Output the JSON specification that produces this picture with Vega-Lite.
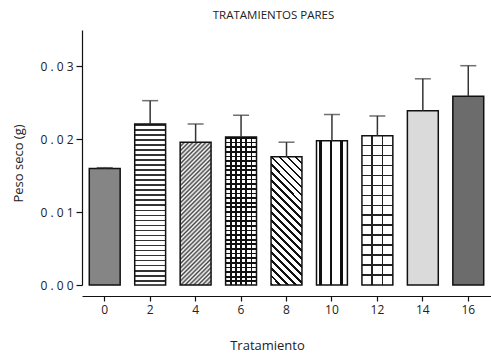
{
  "$schema": "https://vega.github.io/schema/vega-lite/v6.json",
  "autosize": {"type": "none"},
  "padding": {"left": 82, "top": 30, "right": 0, "bottom": 69},
  "width": 409,
  "height": 255,
  "title": {"text": "TRATAMIENTOS PARES", "fontSize": 11.5, "fontWeight": "normal", "color": "#222", "offset": 9, "dx": -13},
  "config": {
    "font": "Open Sans",
    "view": {"stroke": null},
    "axis": {"grid": false, "domainColor": "#111", "tickColor": "#111", "labelColor": "#222", "titleColor": "#222", "titleFontWeight": "normal", "domainWidth": 1.2, "tickWidth": 1.2}
  },
  "data": {"values": [
    {"Tratamiento": 0, "Peso": 0.0160, "Sup": 0.0161},
    {"Tratamiento": 2, "Peso": 0.0221, "Sup": 0.0253},
    {"Tratamiento": 4, "Peso": 0.0196, "Sup": 0.0221},
    {"Tratamiento": 6, "Peso": 0.0203, "Sup": 0.0233},
    {"Tratamiento": 8, "Peso": 0.0176, "Sup": 0.0196},
    {"Tratamiento": 10, "Peso": 0.0198, "Sup": 0.0234},
    {"Tratamiento": 12, "Peso": 0.0205, "Sup": 0.0232},
    {"Tratamiento": 14, "Peso": 0.0239, "Sup": 0.0283},
    {"Tratamiento": 16, "Peso": 0.0259, "Sup": 0.0301}
  ]},
  "encoding": {
    "x": {"field": "Tratamiento", "type": "ordinal", "scale": {"paddingInner": 0.32, "paddingOuter": 0.16},
      "axis": {"title": "Tratamiento", "labelAngle": 0, "offset": 11, "tickSize": 5, "labelFontSize": 12, "labelPadding": 3, "titleFontSize": 13, "titlePadding": 24, "titleX": 185}},
    "y": {"field": "Peso", "type": "quantitative", "scale": {"domain": [0, 0.035], "nice": false},
      "axis": {"title": "Peso seco (g)", "values": [0, 0.01, 0.02, 0.03], "format": ".2f", "labelExpr": "join(split(datum.label, ''), ' ')", "tickSize": 6, "labelPadding": 3, "labelFontSize": 12, "titleFontSize": 13, "titlePadding": 14, "titleY": 133}}
  },
  "layer": [
    {"mark": {"type": "bar"},
     "encoding": {"color": {"field": "Tratamiento", "type": "ordinal", "legend": null,
       "scale": {"domain": [0, 2, 4, 6, 8, 10, 12, 14, 16], "range": ["#858585", "#ffffff", "#ffffff", "#ffffff", "#ffffff", "#ffffff", "#ffffff", "#dadada", "#6c6c6c"]}}}},
    {"transform": [{"filter": "datum.Tratamiento == 2"}],
     "mark": {"type": "bar", "fill": {"gradient": "linear", "x1": 0, "y1": 0, "x2": 0, "y2": 1, "stops": [
{"offset":0,"color":"#333"},{"offset":0.01,"color":"#333"},{"offset":0.01,"color":"#fff"},{"offset":0.03125,"color":"#fff"},
{"offset":0.03125,"color":"#333"},{"offset":0.04125,"color":"#333"},{"offset":0.04125,"color":"#fff"},{"offset":0.0625,"color":"#fff"},
{"offset":0.0625,"color":"#333"},{"offset":0.0725,"color":"#333"},{"offset":0.0725,"color":"#fff"},{"offset":0.09375,"color":"#fff"},
{"offset":0.09375,"color":"#333"},{"offset":0.10375,"color":"#333"},{"offset":0.10375,"color":"#fff"},{"offset":0.125,"color":"#fff"},
{"offset":0.125,"color":"#333"},{"offset":0.135,"color":"#333"},{"offset":0.135,"color":"#fff"},{"offset":0.15625,"color":"#fff"},
{"offset":0.15625,"color":"#333"},{"offset":0.16625,"color":"#333"},{"offset":0.16625,"color":"#fff"},{"offset":0.1875,"color":"#fff"},
{"offset":0.1875,"color":"#333"},{"offset":0.1975,"color":"#333"},{"offset":0.1975,"color":"#fff"},{"offset":0.21875,"color":"#fff"},
{"offset":0.21875,"color":"#333"},{"offset":0.22875,"color":"#333"},{"offset":0.22875,"color":"#fff"},{"offset":0.25,"color":"#fff"},
{"offset":0.25,"color":"#333"},{"offset":0.26,"color":"#333"},{"offset":0.26,"color":"#fff"},{"offset":0.28125,"color":"#fff"},
{"offset":0.28125,"color":"#333"},{"offset":0.29125,"color":"#333"},{"offset":0.29125,"color":"#fff"},{"offset":0.3125,"color":"#fff"},
{"offset":0.3125,"color":"#333"},{"offset":0.3225,"color":"#333"},{"offset":0.3225,"color":"#fff"},{"offset":0.34375,"color":"#fff"},
{"offset":0.34375,"color":"#333"},{"offset":0.35375,"color":"#333"},{"offset":0.35375,"color":"#fff"},{"offset":0.375,"color":"#fff"},
{"offset":0.375,"color":"#333"},{"offset":0.385,"color":"#333"},{"offset":0.385,"color":"#fff"},{"offset":0.40625,"color":"#fff"},
{"offset":0.40625,"color":"#333"},{"offset":0.41625,"color":"#333"},{"offset":0.41625,"color":"#fff"},{"offset":0.4375,"color":"#fff"},
{"offset":0.4375,"color":"#333"},{"offset":0.4475,"color":"#333"},{"offset":0.4475,"color":"#fff"},{"offset":0.46875,"color":"#fff"},
{"offset":0.46875,"color":"#333"},{"offset":0.47875,"color":"#333"},{"offset":0.47875,"color":"#fff"},{"offset":0.5,"color":"#fff"},
{"offset":0.5,"color":"#333"},{"offset":0.51,"color":"#333"},{"offset":0.51,"color":"#fff"},{"offset":0.53125,"color":"#fff"},
{"offset":0.53125,"color":"#333"},{"offset":0.54125,"color":"#333"},{"offset":0.54125,"color":"#fff"},{"offset":0.5625,"color":"#fff"},
{"offset":0.5625,"color":"#333"},{"offset":0.5725,"color":"#333"},{"offset":0.5725,"color":"#fff"},{"offset":0.59375,"color":"#fff"},
{"offset":0.59375,"color":"#333"},{"offset":0.60375,"color":"#333"},{"offset":0.60375,"color":"#fff"},{"offset":0.625,"color":"#fff"},
{"offset":0.625,"color":"#333"},{"offset":0.635,"color":"#333"},{"offset":0.635,"color":"#fff"},{"offset":0.65625,"color":"#fff"},
{"offset":0.65625,"color":"#333"},{"offset":0.66625,"color":"#333"},{"offset":0.66625,"color":"#fff"},{"offset":0.6875,"color":"#fff"},
{"offset":0.6875,"color":"#333"},{"offset":0.6975,"color":"#333"},{"offset":0.6975,"color":"#fff"},{"offset":0.71875,"color":"#fff"},
{"offset":0.71875,"color":"#333"},{"offset":0.72875,"color":"#333"},{"offset":0.72875,"color":"#fff"},{"offset":0.75,"color":"#fff"},
{"offset":0.75,"color":"#333"},{"offset":0.76,"color":"#333"},{"offset":0.76,"color":"#fff"},{"offset":0.78125,"color":"#fff"},
{"offset":0.78125,"color":"#333"},{"offset":0.79125,"color":"#333"},{"offset":0.79125,"color":"#fff"},{"offset":0.8125,"color":"#fff"},
{"offset":0.8125,"color":"#333"},{"offset":0.8225,"color":"#333"},{"offset":0.8225,"color":"#fff"},{"offset":0.84375,"color":"#fff"},
{"offset":0.84375,"color":"#333"},{"offset":0.85375,"color":"#333"},{"offset":0.85375,"color":"#fff"},{"offset":0.875,"color":"#fff"},
{"offset":0.875,"color":"#333"},{"offset":0.885,"color":"#333"},{"offset":0.885,"color":"#fff"},{"offset":0.90625,"color":"#fff"},
{"offset":0.90625,"color":"#333"},{"offset":0.91625,"color":"#333"},{"offset":0.91625,"color":"#fff"},{"offset":0.9375,"color":"#fff"},
{"offset":0.9375,"color":"#333"},{"offset":0.9475,"color":"#333"},{"offset":0.9475,"color":"#fff"},{"offset":0.96875,"color":"#fff"},
{"offset":0.96875,"color":"#333"},{"offset":0.97875,"color":"#333"},{"offset":0.97875,"color":"#fff"},{"offset":1,"color":"#fff"}
     ]}}},
    {"transform": [{"filter": "datum.Tratamiento == 4"}],
     "mark": {"type": "bar", "fill": {"gradient": "linear", "x1": 0, "y1": 0, "x2": 0.2521, "y2": 1.1622, "stops": [
{"offset":0,"color":"#444"},{"offset":0.0125,"color":"#fff"},{"offset":0.025,"color":"#444"},{"offset":0.0375,"color":"#fff"},
{"offset":0.05,"color":"#444"},{"offset":0.0625,"color":"#fff"},{"offset":0.075,"color":"#444"},{"offset":0.0875,"color":"#fff"},
{"offset":0.1,"color":"#444"},{"offset":0.1125,"color":"#fff"},{"offset":0.125,"color":"#444"},{"offset":0.1375,"color":"#fff"},
{"offset":0.15,"color":"#444"},{"offset":0.1625,"color":"#fff"},{"offset":0.175,"color":"#444"},{"offset":0.1875,"color":"#fff"},
{"offset":0.2,"color":"#444"},{"offset":0.2125,"color":"#fff"},{"offset":0.225,"color":"#444"},{"offset":0.2375,"color":"#fff"},
{"offset":0.25,"color":"#444"},{"offset":0.2625,"color":"#fff"},{"offset":0.275,"color":"#444"},{"offset":0.2875,"color":"#fff"},
{"offset":0.3,"color":"#444"},{"offset":0.3125,"color":"#fff"},{"offset":0.325,"color":"#444"},{"offset":0.3375,"color":"#fff"},
{"offset":0.35,"color":"#444"},{"offset":0.3625,"color":"#fff"},{"offset":0.375,"color":"#444"},{"offset":0.3875,"color":"#fff"},
{"offset":0.4,"color":"#444"},{"offset":0.4125,"color":"#fff"},{"offset":0.425,"color":"#444"},{"offset":0.4375,"color":"#fff"},
{"offset":0.45,"color":"#444"},{"offset":0.4625,"color":"#fff"},{"offset":0.475,"color":"#444"},{"offset":0.4875,"color":"#fff"},
{"offset":0.5,"color":"#444"},{"offset":0.5125,"color":"#fff"},{"offset":0.525,"color":"#444"},{"offset":0.5375,"color":"#fff"},
{"offset":0.55,"color":"#444"},{"offset":0.5625,"color":"#fff"},{"offset":0.575,"color":"#444"},{"offset":0.5875,"color":"#fff"},
{"offset":0.6,"color":"#444"},{"offset":0.6125,"color":"#fff"},{"offset":0.625,"color":"#444"},{"offset":0.6375,"color":"#fff"},
{"offset":0.65,"color":"#444"},{"offset":0.6625,"color":"#fff"},{"offset":0.675,"color":"#444"},{"offset":0.6875,"color":"#fff"},
{"offset":0.7,"color":"#444"},{"offset":0.7125,"color":"#fff"},{"offset":0.725,"color":"#444"},{"offset":0.7375,"color":"#fff"},
{"offset":0.75,"color":"#444"},{"offset":0.7625,"color":"#fff"},{"offset":0.775,"color":"#444"},{"offset":0.7875,"color":"#fff"},
{"offset":0.8,"color":"#444"},{"offset":0.8125,"color":"#fff"},{"offset":0.825,"color":"#444"},{"offset":0.8375,"color":"#fff"},
{"offset":0.85,"color":"#444"},{"offset":0.8625,"color":"#fff"},{"offset":0.875,"color":"#444"},{"offset":0.8875,"color":"#fff"},
{"offset":0.9,"color":"#444"},{"offset":0.9125,"color":"#fff"},{"offset":0.925,"color":"#444"},{"offset":0.9375,"color":"#fff"},
{"offset":0.95,"color":"#444"},{"offset":0.9625,"color":"#fff"},{"offset":0.975,"color":"#444"},{"offset":0.9875,"color":"#fff"},
{"offset":1,"color":"#444"}
     ]}}},
    {"transform": [{"filter": "datum.Tratamiento == 6"}],
     "mark": {"type": "bar", "fill": {"gradient": "linear", "x1": 0, "y1": 0, "x2": 0, "y2": 1, "stops": [
{"offset":0,"color":"#111"},{"offset":0.012,"color":"#111"},{"offset":0.012,"color":"#fff"},{"offset":0.03125,"color":"#fff"},
{"offset":0.03125,"color":"#111"},{"offset":0.04325,"color":"#111"},{"offset":0.04325,"color":"#fff"},{"offset":0.0625,"color":"#fff"},
{"offset":0.0625,"color":"#111"},{"offset":0.0745,"color":"#111"},{"offset":0.0745,"color":"#fff"},{"offset":0.09375,"color":"#fff"},
{"offset":0.09375,"color":"#111"},{"offset":0.10575,"color":"#111"},{"offset":0.10575,"color":"#fff"},{"offset":0.125,"color":"#fff"},
{"offset":0.125,"color":"#111"},{"offset":0.137,"color":"#111"},{"offset":0.137,"color":"#fff"},{"offset":0.15625,"color":"#fff"},
{"offset":0.15625,"color":"#111"},{"offset":0.16825,"color":"#111"},{"offset":0.16825,"color":"#fff"},{"offset":0.1875,"color":"#fff"},
{"offset":0.1875,"color":"#111"},{"offset":0.1995,"color":"#111"},{"offset":0.1995,"color":"#fff"},{"offset":0.21875,"color":"#fff"},
{"offset":0.21875,"color":"#111"},{"offset":0.23075,"color":"#111"},{"offset":0.23075,"color":"#fff"},{"offset":0.25,"color":"#fff"},
{"offset":0.25,"color":"#111"},{"offset":0.262,"color":"#111"},{"offset":0.262,"color":"#fff"},{"offset":0.28125,"color":"#fff"},
{"offset":0.28125,"color":"#111"},{"offset":0.29325,"color":"#111"},{"offset":0.29325,"color":"#fff"},{"offset":0.3125,"color":"#fff"},
{"offset":0.3125,"color":"#111"},{"offset":0.3245,"color":"#111"},{"offset":0.3245,"color":"#fff"},{"offset":0.34375,"color":"#fff"},
{"offset":0.34375,"color":"#111"},{"offset":0.35575,"color":"#111"},{"offset":0.35575,"color":"#fff"},{"offset":0.375,"color":"#fff"},
{"offset":0.375,"color":"#111"},{"offset":0.387,"color":"#111"},{"offset":0.387,"color":"#fff"},{"offset":0.40625,"color":"#fff"},
{"offset":0.40625,"color":"#111"},{"offset":0.41825,"color":"#111"},{"offset":0.41825,"color":"#fff"},{"offset":0.4375,"color":"#fff"},
{"offset":0.4375,"color":"#111"},{"offset":0.4495,"color":"#111"},{"offset":0.4495,"color":"#fff"},{"offset":0.46875,"color":"#fff"},
{"offset":0.46875,"color":"#111"},{"offset":0.48075,"color":"#111"},{"offset":0.48075,"color":"#fff"},{"offset":0.5,"color":"#fff"},
{"offset":0.5,"color":"#111"},{"offset":0.512,"color":"#111"},{"offset":0.512,"color":"#fff"},{"offset":0.53125,"color":"#fff"},
{"offset":0.53125,"color":"#111"},{"offset":0.54325,"color":"#111"},{"offset":0.54325,"color":"#fff"},{"offset":0.5625,"color":"#fff"},
{"offset":0.5625,"color":"#111"},{"offset":0.5745,"color":"#111"},{"offset":0.5745,"color":"#fff"},{"offset":0.59375,"color":"#fff"},
{"offset":0.59375,"color":"#111"},{"offset":0.60575,"color":"#111"},{"offset":0.60575,"color":"#fff"},{"offset":0.625,"color":"#fff"},
{"offset":0.625,"color":"#111"},{"offset":0.637,"color":"#111"},{"offset":0.637,"color":"#fff"},{"offset":0.65625,"color":"#fff"},
{"offset":0.65625,"color":"#111"},{"offset":0.66825,"color":"#111"},{"offset":0.66825,"color":"#fff"},{"offset":0.6875,"color":"#fff"},
{"offset":0.6875,"color":"#111"},{"offset":0.6995,"color":"#111"},{"offset":0.6995,"color":"#fff"},{"offset":0.71875,"color":"#fff"},
{"offset":0.71875,"color":"#111"},{"offset":0.73075,"color":"#111"},{"offset":0.73075,"color":"#fff"},{"offset":0.75,"color":"#fff"},
{"offset":0.75,"color":"#111"},{"offset":0.762,"color":"#111"},{"offset":0.762,"color":"#fff"},{"offset":0.78125,"color":"#fff"},
{"offset":0.78125,"color":"#111"},{"offset":0.79325,"color":"#111"},{"offset":0.79325,"color":"#fff"},{"offset":0.8125,"color":"#fff"},
{"offset":0.8125,"color":"#111"},{"offset":0.8245,"color":"#111"},{"offset":0.8245,"color":"#fff"},{"offset":0.84375,"color":"#fff"},
{"offset":0.84375,"color":"#111"},{"offset":0.85575,"color":"#111"},{"offset":0.85575,"color":"#fff"},{"offset":0.875,"color":"#fff"},
{"offset":0.875,"color":"#111"},{"offset":0.887,"color":"#111"},{"offset":0.887,"color":"#fff"},{"offset":0.90625,"color":"#fff"},
{"offset":0.90625,"color":"#111"},{"offset":0.91825,"color":"#111"},{"offset":0.91825,"color":"#fff"},{"offset":0.9375,"color":"#fff"},
{"offset":0.9375,"color":"#111"},{"offset":0.9495,"color":"#111"},{"offset":0.9495,"color":"#fff"},{"offset":0.96875,"color":"#fff"},
{"offset":0.96875,"color":"#111"},{"offset":0.98075,"color":"#111"},{"offset":0.98075,"color":"#fff"},{"offset":1,"color":"#fff"}
     ]}}},
    {"transform": [{"filter": "datum.Tratamiento == 6"}],
     "mark": {"type": "bar", "fill": {"gradient": "linear", "x1": 0, "y1": 0, "x2": 1, "y2": 0, "stops": [
{"offset":0,"color":"rgba(0,0,0,0)"},{"offset":0.139,"color":"rgba(0,0,0,0)"},{"offset":0.139,"color":"#111"},{"offset":0.194,"color":"#111"},{"offset":0.194,"color":"rgba(0,0,0,0)"},
{"offset":0.306,"color":"rgba(0,0,0,0)"},{"offset":0.306,"color":"#111"},{"offset":0.361,"color":"#111"},{"offset":0.361,"color":"rgba(0,0,0,0)"},
{"offset":0.4725,"color":"rgba(0,0,0,0)"},{"offset":0.4725,"color":"#111"},{"offset":0.5275,"color":"#111"},{"offset":0.5275,"color":"rgba(0,0,0,0)"},
{"offset":0.639,"color":"rgba(0,0,0,0)"},{"offset":0.639,"color":"#111"},{"offset":0.694,"color":"#111"},{"offset":0.694,"color":"rgba(0,0,0,0)"},
{"offset":0.806,"color":"rgba(0,0,0,0)"},{"offset":0.806,"color":"#111"},{"offset":0.861,"color":"#111"},{"offset":0.861,"color":"rgba(0,0,0,0)"},
{"offset":1,"color":"rgba(0,0,0,0)"}
     ]}}},
    {"transform": [{"filter": "datum.Tratamiento == 8"}],
     "mark": {"type": "bar", "fill": {"gradient": "linear", "x1": 0, "y1": 1, "x2": 0.2835, "y2": -0.1733, "stops": [
{"offset":0,"color":"#111"},{"offset":0.016,"color":"#111"},{"offset":0.016,"color":"#fff"},{"offset":0.05,"color":"#fff"},
{"offset":0.05,"color":"#111"},{"offset":0.066,"color":"#111"},{"offset":0.066,"color":"#fff"},{"offset":0.1,"color":"#fff"},
{"offset":0.1,"color":"#111"},{"offset":0.116,"color":"#111"},{"offset":0.116,"color":"#fff"},{"offset":0.15,"color":"#fff"},
{"offset":0.15,"color":"#111"},{"offset":0.166,"color":"#111"},{"offset":0.166,"color":"#fff"},{"offset":0.2,"color":"#fff"},
{"offset":0.2,"color":"#111"},{"offset":0.216,"color":"#111"},{"offset":0.216,"color":"#fff"},{"offset":0.25,"color":"#fff"},
{"offset":0.25,"color":"#111"},{"offset":0.266,"color":"#111"},{"offset":0.266,"color":"#fff"},{"offset":0.3,"color":"#fff"},
{"offset":0.3,"color":"#111"},{"offset":0.316,"color":"#111"},{"offset":0.316,"color":"#fff"},{"offset":0.35,"color":"#fff"},
{"offset":0.35,"color":"#111"},{"offset":0.366,"color":"#111"},{"offset":0.366,"color":"#fff"},{"offset":0.4,"color":"#fff"},
{"offset":0.4,"color":"#111"},{"offset":0.416,"color":"#111"},{"offset":0.416,"color":"#fff"},{"offset":0.45,"color":"#fff"},
{"offset":0.45,"color":"#111"},{"offset":0.466,"color":"#111"},{"offset":0.466,"color":"#fff"},{"offset":0.5,"color":"#fff"},
{"offset":0.5,"color":"#111"},{"offset":0.516,"color":"#111"},{"offset":0.516,"color":"#fff"},{"offset":0.55,"color":"#fff"},
{"offset":0.55,"color":"#111"},{"offset":0.566,"color":"#111"},{"offset":0.566,"color":"#fff"},{"offset":0.6,"color":"#fff"},
{"offset":0.6,"color":"#111"},{"offset":0.616,"color":"#111"},{"offset":0.616,"color":"#fff"},{"offset":0.65,"color":"#fff"},
{"offset":0.65,"color":"#111"},{"offset":0.666,"color":"#111"},{"offset":0.666,"color":"#fff"},{"offset":0.7,"color":"#fff"},
{"offset":0.7,"color":"#111"},{"offset":0.716,"color":"#111"},{"offset":0.716,"color":"#fff"},{"offset":0.75,"color":"#fff"},
{"offset":0.75,"color":"#111"},{"offset":0.766,"color":"#111"},{"offset":0.766,"color":"#fff"},{"offset":0.8,"color":"#fff"},
{"offset":0.8,"color":"#111"},{"offset":0.816,"color":"#111"},{"offset":0.816,"color":"#fff"},{"offset":0.85,"color":"#fff"},
{"offset":0.85,"color":"#111"},{"offset":0.866,"color":"#111"},{"offset":0.866,"color":"#fff"},{"offset":0.9,"color":"#fff"},
{"offset":0.9,"color":"#111"},{"offset":0.916,"color":"#111"},{"offset":0.916,"color":"#fff"},{"offset":0.95,"color":"#fff"},
{"offset":0.95,"color":"#111"},{"offset":0.966,"color":"#111"},{"offset":0.966,"color":"#fff"},{"offset":1,"color":"#fff"}
     ]}}},
    {"transform": [{"filter": "datum.Tratamiento == 10"}],
     "mark": {"type": "bar", "fill": {"gradient": "linear", "x1": 0, "y1": 0, "x2": 1, "y2": 0, "stops": [
{"offset":0,"color":"#fff"},{"offset":0.08,"color":"#fff"},{"offset":0.08,"color":"#111"},{"offset":0.165,"color":"#111"},{"offset":0.165,"color":"#fff"},
{"offset":0.43,"color":"#fff"},{"offset":0.43,"color":"#111"},{"offset":0.515,"color":"#111"},{"offset":0.515,"color":"#fff"},
{"offset":0.76,"color":"#fff"},{"offset":0.76,"color":"#111"},{"offset":0.845,"color":"#111"},{"offset":0.845,"color":"#fff"},
{"offset":1,"color":"#fff"}
     ]}}},
    {"transform": [{"filter": "datum.Tratamiento == 12"}],
     "mark": {"type": "bar", "fill": {"gradient": "linear", "x1": 0, "y1": 0, "x2": 0, "y2": 1, "stops": [
{"offset":0,"color":"#fff"},
{"offset":0.0612,"color":"#fff"},{"offset":0.0612,"color":"#222"},{"offset":0.0722,"color":"#222"},{"offset":0.0722,"color":"#fff"},
{"offset":0.1278,"color":"#fff"},{"offset":0.1278,"color":"#222"},{"offset":0.1388,"color":"#222"},{"offset":0.1388,"color":"#fff"},
{"offset":0.1945,"color":"#fff"},{"offset":0.1945,"color":"#222"},{"offset":0.2055,"color":"#222"},{"offset":0.2055,"color":"#fff"},
{"offset":0.2612,"color":"#fff"},{"offset":0.2612,"color":"#222"},{"offset":0.2722,"color":"#222"},{"offset":0.2722,"color":"#fff"},
{"offset":0.3278,"color":"#fff"},{"offset":0.3278,"color":"#222"},{"offset":0.3388,"color":"#222"},{"offset":0.3388,"color":"#fff"},
{"offset":0.3945,"color":"#fff"},{"offset":0.3945,"color":"#222"},{"offset":0.4055,"color":"#222"},{"offset":0.4055,"color":"#fff"},
{"offset":0.4612,"color":"#fff"},{"offset":0.4612,"color":"#222"},{"offset":0.4722,"color":"#222"},{"offset":0.4722,"color":"#fff"},
{"offset":0.5278,"color":"#fff"},{"offset":0.5278,"color":"#222"},{"offset":0.5388,"color":"#222"},{"offset":0.5388,"color":"#fff"},
{"offset":0.5945,"color":"#fff"},{"offset":0.5945,"color":"#222"},{"offset":0.6055,"color":"#222"},{"offset":0.6055,"color":"#fff"},
{"offset":0.6612,"color":"#fff"},{"offset":0.6612,"color":"#222"},{"offset":0.6722,"color":"#222"},{"offset":0.6722,"color":"#fff"},
{"offset":0.7278,"color":"#fff"},{"offset":0.7278,"color":"#222"},{"offset":0.7388,"color":"#222"},{"offset":0.7388,"color":"#fff"},
{"offset":0.7945,"color":"#fff"},{"offset":0.7945,"color":"#222"},{"offset":0.8055,"color":"#222"},{"offset":0.8055,"color":"#fff"},
{"offset":0.8612,"color":"#fff"},{"offset":0.8612,"color":"#222"},{"offset":0.8722,"color":"#222"},{"offset":0.8722,"color":"#fff"},
{"offset":0.9278,"color":"#fff"},{"offset":0.9278,"color":"#222"},{"offset":0.9388,"color":"#222"},{"offset":0.9388,"color":"#fff"},
{"offset":1,"color":"#fff"}
     ]}}},
    {"transform": [{"filter": "datum.Tratamiento == 12"}],
     "mark": {"type": "bar", "fill": {"gradient": "linear", "x1": 0, "y1": 0, "x2": 1, "y2": 0, "stops": [
{"offset":0,"color":"rgba(0,0,0,0)"},{"offset":0.3083,"color":"rgba(0,0,0,0)"},{"offset":0.3083,"color":"#222"},{"offset":0.3583,"color":"#222"},{"offset":0.3583,"color":"rgba(0,0,0,0)"},
{"offset":0.6417,"color":"rgba(0,0,0,0)"},{"offset":0.6417,"color":"#222"},{"offset":0.6917,"color":"#222"},{"offset":0.6917,"color":"rgba(0,0,0,0)"},
{"offset":1,"color":"rgba(0,0,0,0)"}
     ]}}},
    {"mark": {"type": "bar", "fill": "#fff", "fillOpacity": 0, "stroke": "#111", "strokeWidth": 1.5}},
    {"mark": {"type": "rule", "color": "#333", "strokeWidth": 1.5},
     "encoding": {"y2": {"field": "Sup"}}},
    {"mark": {"type": "tick", "color": "#333", "thickness": 1.5, "size": 16},
     "encoding": {"y": {"field": "Sup", "type": "quantitative", "title": "Peso seco (g)"}}}
  ]
}
